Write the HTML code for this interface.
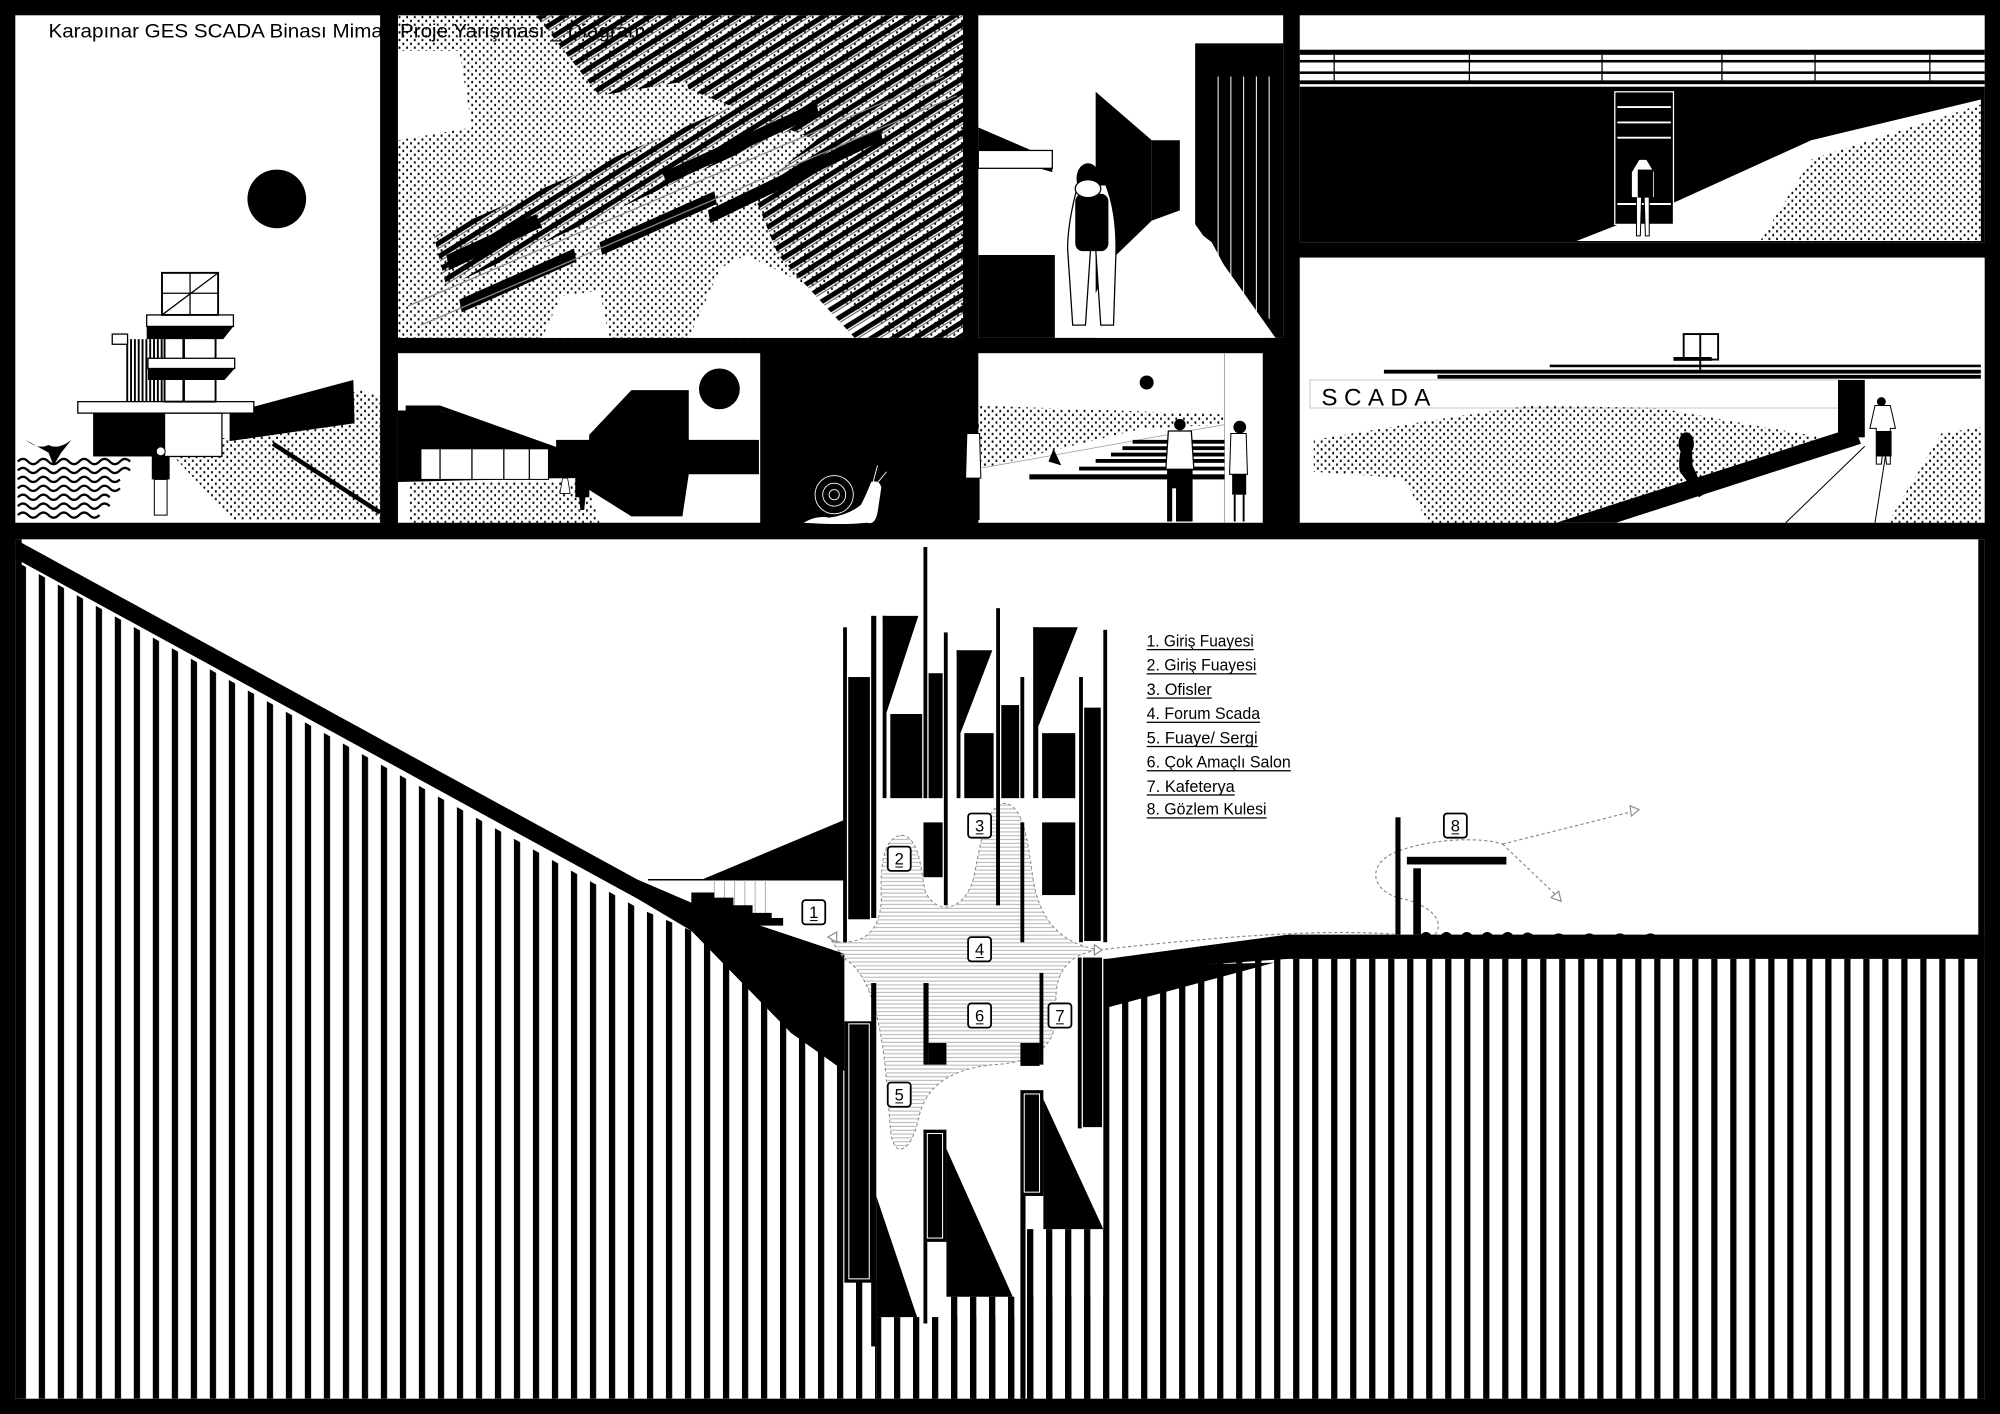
<!DOCTYPE html>
<html><head><meta charset="utf-8"><style>
html,body{margin:0;padding:0;background:#000;}
svg{display:block;}
</style></head><body>
<svg width="2000" height="1414" viewBox="0 0 1568 1109" preserveAspectRatio="none" xmlns="http://www.w3.org/2000/svg">
<defs>
<pattern id="st" patternUnits="userSpaceOnUse" x="1088.3" y="0" width="14.9" height="20"><rect x="0" y="0" width="4.9" height="20" fill="#000"/></pattern>
<pattern id="dt" patternUnits="userSpaceOnUse" width="6" height="6"><rect x="0.5" y="0.5" width="1.4" height="1.8" fill="#000"/><rect x="3.5" y="3.5" width="1.4" height="1.8" fill="#000"/></pattern>
<pattern id="ht" patternUnits="userSpaceOnUse" width="4" height="3"><rect x="0" y="1" width="4" height="0.9" fill="#bbb"/></pattern>
<pattern id="sol" patternUnits="userSpaceOnUse" width="10" height="9" patternTransform="rotate(-32)"><rect x="0" y="0" width="10" height="4" fill="#000"/><rect x="0" y="5" width="10" height="0.8" fill="#555"/></pattern>
<pattern id="vh" patternUnits="userSpaceOnUse" width="3" height="3"><rect width="1.5" height="3" fill="#000"/></pattern>
<clipPath id="cLeft"><polygon points="12,440 500,712 542,730 662,760 662,1097 12,1097"/></clipPath>
</defs>
<rect x="0" y="0" width="1568" height="1109" fill="#000"/>

<!-- ===== Panel 1 ===== -->
<rect x="12" y="12" width="286" height="398" fill="#fff"/>
<circle cx="217" cy="156" r="23" fill="#000"/>
<polygon points="107,358 183,342 282,306 298,311 298,408 183,408 136,358" fill="url(#dt)"/>
<polygon points="180,324 277,298 278,332 180,346" fill="#000"/>
<line x1="214" y1="348" x2="298" y2="402" stroke="#000" stroke-width="3.5"/>
<rect x="73" y="324" width="56" height="34" fill="#000"/>
<rect x="129" y="324" width="45" height="34" fill="#fff" stroke="#000" stroke-width="1"/>
<rect x="61" y="315" width="138" height="9" fill="#fff" stroke="#000" stroke-width="1"/>
<rect x="98" y="266" width="30" height="49" fill="url(#vh)"/>
<rect x="129" y="256" width="40" height="59" fill="#fff" stroke="#000" stroke-width="1.5"/>
<line x1="144" y1="256" x2="144" y2="315" stroke="#000" stroke-width="2"/>
<rect x="115" y="247" width="68" height="9" fill="#fff" stroke="#000" stroke-width="1"/>
<polygon points="115,256 183,256 175,266 115,266" fill="#000"/>
<rect x="116" y="281" width="68" height="8" fill="#fff" stroke="#000" stroke-width="1"/>
<polygon points="116,289 184,289 176,298 116,298" fill="#000"/>
<rect x="127" y="214" width="44" height="33" fill="none" stroke="#000" stroke-width="1.5"/>
<line x1="127" y1="230" x2="171" y2="230" stroke="#000"/><line x1="149" y1="214" x2="149" y2="247" stroke="#000"/>
<line x1="127" y1="247" x2="171" y2="214" stroke="#000"/>
<rect x="88" y="262" width="12" height="8" fill="#fff" stroke="#000"/>
<g fill="none" stroke="#000" stroke-width="1.8">
<path d="M14,362 q4,-4 8,0 t8,0 t8,0 t8,0 t8,0 t8,0 t8,0 t8,0 t8,0 t8,0 t8,0"/>
<path d="M14,369 q4,-4 8,0 t8,0 t8,0 t8,0 t8,0 t8,0 t8,0 t8,0 t8,0 t8,0 t8,0"/>
<path d="M14,376 q4,-4 8,0 t8,0 t8,0 t8,0 t8,0 t8,0 t8,0 t8,0 t8,0 t8,0"/>
<path d="M14,383 q4,-4 8,0 t8,0 t8,0 t8,0 t8,0 t8,0 t8,0 t8,0 t8,0 t8,0"/>
<path d="M14,390 q4,-4 8,0 t8,0 t8,0 t8,0 t8,0 t8,0 t8,0 t8,0 t8,0"/>
<path d="M14,397 q4,-4 8,0 t8,0 t8,0 t8,0 t8,0 t8,0 t8,0 t8,0 t8,0"/>
<path d="M14,404 q4,-4 8,0 t8,0 t8,0 t8,0 t8,0 t8,0 t8,0 t8,0"/>
</g>
<path d="M20,345 q10,8 18,4 q8,4 18,-4 l-8,10 l-6,10 l-4,-10 z" fill="#000"/>
<rect x="119" y="358" width="14" height="18" fill="#000"/>
<rect x="121" y="376" width="10" height="28" fill="#fff" stroke="#000" stroke-width="0.8"/>
<circle cx="126" cy="354" r="3.5" fill="#fff" stroke="#000" stroke-width="0.8"/>

<!-- ===== Panel 2 ===== -->
<rect x="312" y="12" width="443" height="253" fill="#fff"/>
<rect x="312" y="12" width="443" height="253" fill="url(#dt)"/>
<polygon points="312,40 360,40 370,100 312,110" fill="#fff"/>
<polygon points="585,200 690,252 700,265 540,265 565,210" fill="#fff"/>
<polygon points="440,232 470,228 478,265 425,265" fill="#fff"/>
<polygon points="520,12 755,12 755,265 670,265 610,200 590,150 640,110 540,70" fill="url(#sol)"/>
<polygon points="420,12 530,12 560,60 470,75" fill="url(#sol)"/>
<polygon points="340,185 720,20 745,45 350,225" fill="url(#sol)"/>
<polygon points="350,200 420,168 425,178 352,212" fill="#000"/>
<polygon points="360,235 450,195 452,205 362,245" fill="#000"/>
<polygon points="470,190 560,150 562,160 472,200" fill="#000"/>
<polygon points="520,135 640,80 642,90 522,145" fill="#000"/>
<polygon points="555,165 690,100 692,110 557,175" fill="#000"/>
<line x1="320" y1="240" x2="740" y2="60" stroke="#888" stroke-width="1"/>
<line x1="330" y1="255" x2="750" y2="75" stroke="#888" stroke-width="1"/>

<!-- ===== Panel 3 ===== -->
<rect x="767" y="12" width="239" height="253" fill="#fff"/>
<polygon points="937,34 1006,34 1006,265 990,265 950,190 937,180" fill="#000"/>
<g stroke="#fff" stroke-width="0.8"><line x1="955" y1="60" x2="955" y2="230"/><line x1="965" y1="60" x2="965" y2="235"/><line x1="975" y1="60" x2="975" y2="240"/><line x1="985" y1="60" x2="985" y2="245"/><line x1="995" y1="60" x2="995" y2="250"/></g>
<polygon points="859,72 903,110 903,173 870,205 859,230" fill="#000"/>
<polygon points="903,110 925,110 925,165 903,173" fill="#000"/>
<polygon points="767,100 825,125 825,135 767,118" fill="#000"/>
<rect x="767" y="118" width="58" height="14" fill="#fff" stroke="#000"/>
<rect x="767" y="200" width="60" height="65" fill="#000"/>
<polygon points="903,173 935,173 1000,265 860,265" fill="#fff"/>
<path d="M845,145 q-8,30 -8,50 l4,60 h10 l4,-60 h4 l4,60 h10 l2,-60 q0,-30 -8,-50 z" fill="#fff" stroke="#000" stroke-width="1"/>
<rect x="843" y="152" width="26" height="45" rx="6" fill="#000"/>
<ellipse cx="853" cy="140" rx="9" ry="12" fill="#000"/>
<ellipse cx="853" cy="148" rx="10" ry="7" fill="#fff" stroke="#000"/>

<!-- ===== Panel 4 ===== -->
<rect x="1019" y="12" width="537" height="178" fill="#fff"/>
<rect x="1019" y="39" width="537" height="4" fill="#000"/>
<rect x="1019" y="47" width="537" height="2" fill="#000"/>
<rect x="1019" y="56" width="537" height="2" fill="#000"/>
<rect x="1019" y="63" width="537" height="3" fill="#000"/>
<g stroke="#000" stroke-width="1"><line x1="1046" y1="43" x2="1046" y2="63"/><line x1="1152" y1="43" x2="1152" y2="63"/><line x1="1256" y1="43" x2="1256" y2="63"/><line x1="1350" y1="43" x2="1350" y2="63"/><line x1="1423" y1="43" x2="1423" y2="63"/><line x1="1513" y1="43" x2="1513" y2="63"/></g>
<rect x="1019" y="68" width="537" height="122" fill="#000"/>
<polygon points="1553,78 1553,189 1236,189 1310,160 1420,110" fill="#fff"/>
<polygon points="1553,82 1553,189 1380,189 1420,125" fill="url(#dt)"/>
<rect x="1266" y="72" width="46" height="104" fill="#000" stroke="#fff" stroke-width="1"/>
<g stroke="#fff" stroke-width="1.5"><line x1="1268" y1="84" x2="1310" y2="84"/><line x1="1268" y1="96" x2="1310" y2="96"/><line x1="1268" y1="108" x2="1310" y2="108"/><line x1="1268" y1="160" x2="1310" y2="160"/></g>
<path d="M1285,125 l-6,10 l0,20 l4,0 l0,30 h3 l1,-30 h2 l1,30 h3 l0,-30 l4,0 l0,-20 l-6,-10 z" fill="#fff" stroke="#000" stroke-width="0.8"/>
<rect x="1284" y="133" width="12" height="22" fill="#000"/>

<!-- ===== Panel 5 ===== -->
<rect x="1019" y="202" width="537" height="208" fill="#fff"/>
<rect x="1085" y="290" width="468" height="3" fill="#000"/>
<rect x="1127" y="294" width="426" height="3" fill="#000"/>
<rect x="1215" y="286" width="338" height="2" fill="#000"/>
<rect x="1320" y="262" width="27" height="20" fill="none" stroke="#000" stroke-width="1.5"/>
<line x1="1333" y1="262" x2="1333" y2="290" stroke="#000" stroke-width="1.5"/>
<rect x="1312" y="280" width="30" height="3" fill="#000"/>
<rect x="1027" y="298" width="415" height="22" fill="#fff" stroke="#aaa" stroke-width="0.5"/>
<text x="1036" y="318" font-family="Liberation Sans, sans-serif" font-size="19" fill="#000" letter-spacing="5">SCADA</text>
<polygon points="1030,345 1120,330 1200,318 1300,320 1440,345 1455,335 1240,410 1120,410 1100,375 1030,370" fill="url(#dt)"/>
<polygon points="1454,335 1459,348 1267,410 1220,410" fill="#000"/>
<polygon points="1522,340 1553,335 1553,410 1480,410" fill="url(#dt)"/>
<rect x="1441" y="298" width="21" height="45" fill="#000"/>
<line x1="1462" y1="350" x2="1400" y2="410" stroke="#000" stroke-width="0.8"/>
<line x1="1480" y1="346" x2="1470" y2="410" stroke="#000" stroke-width="0.8"/>
<path d="M1320,345 q-5,15 -3,25 l15,20 l5,-3 l-10,-22 q0,-10 -2,-20 z" fill="#000"/>
<ellipse cx="1322" cy="348" rx="6" ry="9" fill="#000"/>
<path d="M1470,318 l-4,18 l5,0 l0,28 h4 l2,-18 l2,18 h3 l0,-28 l4,0 l-4,-18 z" fill="#fff" stroke="#000" stroke-width="0.8"/>
<rect x="1471" y="338" width="12" height="20" fill="#000"/>
<circle cx="1475" cy="315" r="3.5" fill="#000"/>

<!-- ===== Panel 6 ===== -->
<rect x="312" y="277" width="284" height="133" fill="#fff"/>
<circle cx="564" cy="305" r="16" fill="#000"/>
<polygon points="312,322 345,322 440,355 440,375 312,378" fill="#000"/>
<polygon points="318,318 345,318 440,352 440,356 345,322 318,322" fill="#000"/>
<rect x="330" y="352" width="100" height="24" fill="#fff" stroke="#000" stroke-width="0.8"/>
<g stroke="#000" stroke-width="1"><line x1="345" y1="352" x2="345" y2="376"/><line x1="370" y1="352" x2="370" y2="376"/><line x1="395" y1="352" x2="395" y2="376"/><line x1="415" y1="352" x2="415" y2="376"/></g>
<polygon points="462,341 495,306 540,306 540,345 595,345 595,372 540,372 535,405 495,405 460,383" fill="#000"/>
<polygon points="320,378 460,378 470,410 320,410" fill="url(#dt)"/>
<rect x="436" y="345" width="26" height="30" fill="#000"/>
<path d="M455,360 l-4,12 l0,18 h3 l1,10 h3 l1,-10 h3 l0,-18 l-3,-12 z" fill="#000"/>
<path d="M441,375 l-2,12 h8 l-2,-12 z" fill="#fff" stroke="#000" stroke-width="0.6"/>

<!-- ===== Snail panel ===== -->
<g fill="none" stroke="#fff" stroke-width="0.7">
<circle cx="654" cy="388" r="15"/><circle cx="654" cy="388" r="9"/><circle cx="654" cy="388" r="4"/>
<line x1="684" y1="380" x2="688" y2="365"/><line x1="686" y1="381" x2="695" y2="370"/>
</g>
<path d="M630,410 q10,-6 20,-4 q15,-2 25,-10 q5,-10 8,-18 q6,-2 8,4 l-3,20 q-2,10 -8,8 q-20,2 -50,0 z" fill="#fff"/>

<!-- ===== Panel 8 ===== -->
<rect x="767" y="277" width="223" height="133" fill="#fff"/>
<line x1="960" y1="277" x2="960" y2="410" stroke="#aaa" stroke-width="0.8"/>
<circle cx="899" cy="300" r="5.5" fill="#000"/>
<polygon points="766,318 960,325 960,333 896,336 770,367" fill="url(#dt)"/>
<line x1="770" y1="367" x2="960" y2="333" stroke="#999" stroke-width="0.6"/>
<g fill="#000">
<rect x="807" y="372" width="153" height="4"/>
<rect x="846" y="366" width="114" height="3"/>
<rect x="859" y="360" width="101" height="3"/>
<rect x="871" y="355" width="89" height="3"/>
<rect x="880" y="350" width="80" height="3"/>
<rect x="888" y="345" width="72" height="3"/>
</g>
<path d="M916,338 h18 l2,30 h-22 z" fill="#fff" stroke="#000" stroke-width="1"/>
<rect x="915" y="368" width="20" height="41" fill="#000"/>
<rect x="919" y="383" width="3" height="26" fill="#fff"/>
<circle cx="925" cy="333" r="4.5" fill="#000"/>
<path d="M758,340 h10 l1,35 h-12 z" fill="#fff" stroke="#000" stroke-width="0.8"/>
<rect x="758" y="375" width="10" height="33" fill="#000"/>
<circle cx="763" cy="334" r="4.5" fill="#000"/>
<path d="M965,340 h12 l1,32 h-14 z" fill="#fff" stroke="#000" stroke-width="0.8"/>
<rect x="966" y="372" width="11" height="16" fill="#000"/>
<line x1="968" y1="388" x2="968" y2="409" stroke="#000" stroke-width="1.5"/><line x1="975" y1="388" x2="975" y2="409" stroke="#000" stroke-width="1.5"/>
<circle cx="972" cy="335" r="5" fill="#000"/>
<path d="M826,352 l-4,10 l10,3 z" fill="#000"/>

<!-- ===== Bottom panel ===== -->
<rect x="12" y="423" width="1544" height="674" fill="#fff"/>

<!-- left stripes -->
<rect x="12" y="423" width="650" height="674" fill="url(#st)" clip-path="url(#cLeft)"/>
<rect x="12" y="423" width="5" height="674" fill="#000"/>
<polygon points="12,423 12,438 500,705 542,720 542,708 500,690" fill="#000"/>
<polygon points="500,690 542,708 662,748 662,840 620,810 542,730 500,705" fill="#000"/>
<polygon points="550,690 662,643 662,690" fill="#000"/>
<line x1="508" y1="690" x2="662" y2="690" stroke="#000" stroke-width="1.2"/>
<g stroke="#999" stroke-width="0.6"><line x1="560" y1="690" x2="560" y2="708"/><line x1="568" y1="690" x2="568" y2="712"/><line x1="576" y1="690" x2="576" y2="716"/><line x1="584" y1="690" x2="584" y2="719"/><line x1="592" y1="690" x2="592" y2="722"/><line x1="600" y1="690" x2="600" y2="725"/></g>
<polygon points="542,700 560,700 560,704 575,704 575,710 590,710 590,716 605,716 605,720 614,720 614,726 542,726" fill="#000"/>

<!-- right stripes -->
<rect x="865" y="752" width="691" height="345" fill="url(#st)"/>
<polygon points="868,752 1010,733 1556,733 1556,752 1010,752 868,762" fill="#000"/>
<polygon points="869,758 999,755 869,790" fill="#000"/>
<rect x="1551" y="423" width="5" height="674" fill="#000"/>
<path d="M1114,733 q4,-4 8,0 t8,0 t8,0 t8,0 t8,0 t8,0 t8,0 t8,0 t8,0 t8,0 t10,2 t12,0 t12,0 t12,0 t12,0 t12,0 t12,0 t12,0 t12,0 l5,0 v5 h-230 z" fill="#000"/>

<!-- middle lower stripes -->
<rect x="662" y="1005" width="25" height="92" fill="url(#st)"/>
<rect x="687" y="1033" width="178" height="64" fill="url(#st)"/>
<rect x="742" y="1017" width="123" height="80" fill="url(#st)"/>
<rect x="800" y="964" width="65" height="133" fill="url(#st)"/>

<!-- circulation blob -->
<path d="M652,738 C676,742 690,732 691,705 C690,680 692,658 706,655 C720,655 722,680 725,698 C733,718 755,716 763,690 C769,662 772,632 788,630 C803,632 806,662 810,690 C815,720 830,740 862,745 C838,748 826,762 828,790 C830,820 812,833 780,835 C745,838 725,852 720,878 C714,905 700,910 698,885 C694,830 690,768 662,752 Z" fill="url(#ht)" stroke="#888" stroke-width="0.8" stroke-dasharray="2.5,2"/>

<!-- building top -->
<g fill="#000">
<rect x="724" y="429" width="3" height="197"/>
<rect x="661" y="492" width="3" height="247"/>
<rect x="664" y="529" width="19" height="193" fill="#fff"/>
<rect x="665" y="531" width="17" height="190"/>
<rect x="683" y="483" width="4" height="237"/>
<polygon points="692,483 720,483 695,559"/>
<rect x="692" y="483" width="3" height="143"/>
<rect x="698" y="560" width="25" height="66"/>
<rect x="740" y="496" width="3" height="214"/>
<rect x="728" y="528" width="11" height="98"/>
<polygon points="750,510 778,510 753,575"/>
<rect x="750" y="510" width="3" height="116"/>
<rect x="756" y="575" width="23" height="51"/>
<rect x="781" y="477" width="3" height="233"/>
<rect x="785" y="553" width="14" height="73"/>
<rect x="800" y="531" width="3" height="95"/>
<polygon points="810,492 845,492 814,570"/>
<rect x="810" y="492" width="4" height="134"/>
<rect x="817" y="575" width="26" height="51"/>
<rect x="846" y="531" width="3" height="208"/>
<rect x="850" y="555" width="13" height="183"/>
<rect x="865" y="494" width="3" height="245"/>
<rect x="724" y="645" width="15" height="43"/>
<rect x="781" y="645" width="3" height="65"/>
<rect x="800" y="645" width="3" height="94"/>
<rect x="817" y="645" width="26" height="57"/>
</g>
<!-- building bottom -->
<g fill="#000">
<rect x="662" y="801" width="22" height="205"/>
<rect x="683" y="771" width="4" height="285"/>
<polygon points="687,938 719,1033 687,1033"/>
<rect x="724" y="771" width="4" height="64"/>
<rect x="728" y="818" width="14" height="17"/>
<rect x="724" y="886" width="18" height="88"/>
<rect x="724" y="974" width="3" height="64"/>
<polygon points="742,901 794,1017 742,1017"/>
<rect x="815" y="763" width="3" height="72"/>
<rect x="800" y="818" width="15" height="18"/>
<rect x="800" y="855" width="18" height="83"/>
<rect x="800" y="938" width="4" height="159"/>
<polygon points="818,862 865,964 818,964"/>
<rect x="849" y="751" width="15" height="133"/>
<rect x="845" y="751" width="3" height="134"/>
</g>
<g fill="none" stroke="#fff" stroke-width="0.8">
<rect x="665.5" y="803" width="16" height="200"/>
<rect x="727" y="889" width="12" height="82"/>
<rect x="803" y="858" width="12" height="77"/>
</g>

<!-- dashed connectors -->
<g fill="none" stroke="#888" stroke-width="0.9" stroke-dasharray="2.5,2">
<path d="M862,745 C950,735 1040,728 1096,733"/>
<path d="M1125,733 C1135,720 1115,708 1100,705 C1075,700 1070,678 1095,668 C1120,658 1160,656 1178,662"/>
<line x1="1178" y1="662" x2="1282" y2="636"/>
<line x1="1178" y1="662" x2="1222" y2="704"/>
</g>
<g fill="#fff" stroke="#888" stroke-width="0.9">
<polygon points="1285,635 1278,632 1279,640"/>
<polygon points="1224,707 1216,704 1222,699"/>
<polygon points="649,735 656,731 656,739"/>
<polygon points="864,745 858,741 858,749"/>
</g>

<!-- tower 8 -->
<g fill="#000">
<rect x="1094" y="641" width="4" height="92"/>
<rect x="1108" y="681" width="6" height="52"/>
<rect x="1103" y="672" width="78" height="6"/>
</g>

<!-- labels -->
<g font-family="Liberation Sans Narrow, Liberation Sans, sans-serif" font-size="13" fill="#000" text-anchor="middle">
<g fill="#fff" stroke="#000" stroke-width="1.4">
<rect x="629" y="706" width="18" height="19" rx="2.5"/>
<rect x="696" y="664" width="18" height="19" rx="2.5"/>
<rect x="759" y="638" width="18" height="19" rx="2.5"/>
<rect x="759" y="735" width="18" height="19" rx="2.5"/>
<rect x="696" y="849" width="18" height="19" rx="2.5"/>
<rect x="759" y="787" width="18" height="19" rx="2.5"/>
<rect x="822" y="787" width="18" height="19" rx="2.5"/>
<rect x="1132" y="638" width="18" height="19" rx="2.5"/>
</g>
<text x="638" y="720">1</text><text x="705" y="678">2</text><text x="768" y="652">3</text><text x="768" y="749">4</text>
<text x="705" y="863">5</text><text x="768" y="801">6</text><text x="831" y="801">7</text><text x="1141" y="652">8</text>
<g stroke="#000" stroke-width="0.8">
<line x1="635" y1="722" x2="641" y2="722"/><line x1="702" y1="680" x2="708" y2="680"/><line x1="765" y1="654" x2="771" y2="654"/><line x1="765" y1="751" x2="771" y2="751"/>
<line x1="702" y1="865" x2="708" y2="865"/><line x1="765" y1="803" x2="771" y2="803"/><line x1="828" y1="803" x2="834" y2="803"/><line x1="1138" y1="654" x2="1144" y2="654"/>
</g>
</g>

<!-- legend -->
<g font-family="Liberation Sans Narrow, Liberation Sans, sans-serif" font-size="13" fill="#000">
<text x="899" y="507" textLength="84" lengthAdjust="spacingAndGlyphs">1. Giriş Fuayesi</text>
<text x="899" y="526" textLength="86" lengthAdjust="spacingAndGlyphs">2. Giriş Fuayesi</text>
<text x="899" y="545" textLength="51" lengthAdjust="spacingAndGlyphs">3. Ofisler</text>
<text x="899" y="564" textLength="89" lengthAdjust="spacingAndGlyphs">4. Forum Scada</text>
<text x="899" y="583" textLength="87" lengthAdjust="spacingAndGlyphs">5. Fuaye/ Sergi</text>
<text x="899" y="602" textLength="113" lengthAdjust="spacingAndGlyphs">6. Çok Amaçlı Salon</text>
<text x="899" y="621" textLength="69" lengthAdjust="spacingAndGlyphs">7. Kafeterya</text>
<text x="899" y="639" textLength="94" lengthAdjust="spacingAndGlyphs">8. Gözlem Kulesi</text>
</g>
<g fill="#000">
<rect x="899" y="509" width="84" height="1"/><rect x="899" y="528" width="86" height="1"/><rect x="899" y="547" width="51" height="1"/><rect x="899" y="566" width="89" height="1"/>
<rect x="899" y="585" width="87" height="1"/><rect x="899" y="604" width="113" height="1"/><rect x="899" y="623" width="69" height="1"/><rect x="899" y="641" width="94" height="1"/>
</g>

<!-- title on top -->
<text x="38" y="29.5" font-family="Liberation Sans, sans-serif" font-size="15" fill="#000" textLength="468" lengthAdjust="spacingAndGlyphs">Karapınar GES SCADA Binası Mimari Proje Yarışması _  Diagram</text>
</svg>
</body></html>
